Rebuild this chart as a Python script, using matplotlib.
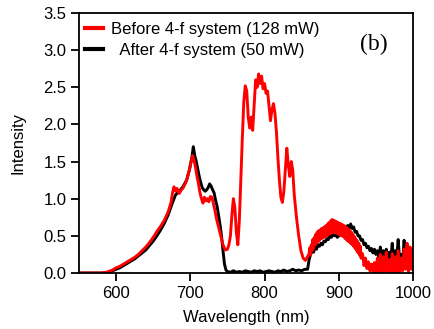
import matplotlib
matplotlib.use("Agg")
import matplotlib.pyplot as plt

plt.rcParams['font.family'] = ['Liberation Sans', 'DejaVu Sans']

# ---- Data ----
red_wl = [550, 560, 570, 580, 585, 590, 595, 600, 605, 610, 615, 620, 625, 630, 635, 640, 645, 650,
          655, 660, 665, 670, 674, 676, 678, 680, 682, 685, 688, 690, 693, 696, 699, 701, 703, 705,
          707, 709, 711, 713, 715, 717, 719, 721, 723, 725, 727, 729, 731, 733, 735, 738, 741, 744,
          747, 750, 752, 754, 756, 758, 760, 762, 764, 766, 768, 770, 772, 774, 776, 778, 780, 782,
          784, 786, 788, 790, 792, 794, 796, 798, 800, 802, 804, 806, 808, 810, 812, 814, 816, 818,
          820, 822, 824, 826, 828, 830, 832, 834, 836, 838, 840, 843, 846, 849, 852, 855, 858,
          860, 861, 862, 863, 864, 865, 866, 867, 868, 869, 870, 871, 872, 873, 874, 875, 876, 877,
          878, 879, 880, 881, 882, 883, 884, 885, 886, 887, 888, 889, 890, 891, 892, 893, 894, 895,
          896, 897, 898, 899, 900, 901, 902, 903, 904, 905, 906, 907, 908, 909, 910, 911, 912, 913,
          914, 915, 916, 917, 918, 919, 920, 921, 922, 923, 924, 925, 926, 927, 928, 929, 930,
          932, 934, 936, 938, 940, 942, 944, 946, 948, 950, 952, 954, 956, 958, 960, 962, 964, 966,
          968, 970, 972, 974, 976, 978, 980, 982, 984, 986, 988, 990, 992, 994, 996, 998, 1000]
red_int = [0.0, 0.0, 0.0, 0.0, 0.005, 0.02, 0.04, 0.07, 0.09, 0.12, 0.15, 0.18, 0.21, 0.25, 0.30, 0.35, 0.41, 0.48,
           0.56, 0.63, 0.71, 0.82, 0.95, 1.08, 1.16, 1.10, 1.14, 1.07, 1.12, 1.14, 1.20, 1.28, 1.40, 1.50, 1.58, 1.52,
           1.42, 1.30, 1.20, 1.08, 1.00, 0.94, 1.02, 0.97, 1.00, 0.96, 1.03, 1.02, 0.94, 0.85, 0.74, 0.62, 0.50, 0.38,
           0.31, 0.32, 0.38, 0.50, 0.78, 1.00, 0.88, 0.55, 0.38, 0.70, 1.25, 1.80, 2.30, 2.52, 2.45, 2.10, 1.95, 2.10,
           1.92, 2.25, 2.60, 2.50, 2.68, 2.55, 2.65, 2.48, 2.55, 2.42, 2.45, 2.25, 2.05, 2.20, 2.28, 2.15, 1.90, 1.55,
           1.25, 1.02, 0.95, 1.10, 1.40, 1.68, 1.45, 1.30, 1.50, 1.38, 1.05, 0.75, 0.50, 0.30, 0.20, 0.17, 0.22,
           0.26, 0.34, 0.24, 0.38, 0.30, 0.45, 0.33, 0.48, 0.38, 0.52, 0.40, 0.55, 0.42, 0.57, 0.44, 0.58, 0.46, 0.60,
           0.47, 0.61, 0.48, 0.62, 0.49, 0.64, 0.50, 0.66, 0.52, 0.68, 0.53, 0.70, 0.54, 0.72, 0.55, 0.71, 0.54, 0.70,
           0.55, 0.69, 0.53, 0.68, 0.52, 0.67, 0.51, 0.66, 0.50, 0.65, 0.49, 0.64, 0.47, 0.62, 0.45, 0.61, 0.43, 0.59,
           0.42, 0.57, 0.40, 0.55, 0.38, 0.52, 0.36, 0.49, 0.33, 0.46, 0.30, 0.43, 0.27, 0.40, 0.24, 0.36, 0.20,
           0.26, 0.10, 0.20, 0.06, 0.15, 0.03, 0.12, 0.02, 0.14, 0.01, 0.20, 0.02, 0.25, 0.01, 0.22, 0.03, 0.28, 0.01,
           0.18, 0.02, 0.26, 0.00, 0.22, 0.02, 0.30, 0.01, 0.20, 0.03, 0.32, 0.05, 0.40, 0.02, 0.35, 0.05, 0.30]

black_wl = [550, 560, 570, 580, 590, 595, 600, 605, 610, 615, 620, 625, 630, 635, 640, 645, 650, 655,
            660, 665, 670, 675, 680, 685, 690, 695, 699, 702, 704, 706, 708, 710, 712, 714, 716, 718,
            720, 722, 724, 726, 728, 730, 732, 734, 736, 738, 740, 742, 744, 746, 748, 750,
            754, 758, 762, 766, 770, 774, 778, 782, 786, 790, 794, 798, 802, 806, 810, 814, 818, 822,
            826, 830, 834, 838, 842, 846, 850, 854, 858,
            860, 862, 864, 866, 868, 870, 872, 874, 876, 878, 880, 882, 884, 886, 888, 890, 892, 894,
            896, 898, 900, 902, 904, 906, 908, 910, 912, 914, 916, 918, 920, 922, 924, 926, 928, 930,
            932, 934, 936, 938, 940, 942, 944, 946, 948, 950, 952, 954, 956, 958, 960, 962, 964, 966,
            968, 970, 972, 974, 976, 978, 980, 982, 984, 986, 988, 990, 992, 994, 996, 998, 1000]
black_int = [0.0, 0.0, 0.0, 0.0, 0.01, 0.03, 0.05, 0.07, 0.10, 0.13, 0.16, 0.19, 0.23, 0.27, 0.31, 0.37, 0.43, 0.50,
             0.58, 0.67, 0.78, 0.92, 1.05, 1.10, 1.16, 1.25, 1.40, 1.55, 1.70, 1.58, 1.50, 1.40, 1.30, 1.22, 1.15, 1.12,
             1.10, 1.12, 1.15, 1.20, 1.17, 1.12, 1.08, 0.98, 0.90, 0.78, 0.65, 0.50, 0.30, 0.12, 0.04, 0.02,
             0.01, 0.03, 0.01, 0.02, 0.01, 0.03, 0.02, 0.01, 0.03, 0.02, 0.03, 0.01, 0.02, 0.03, 0.02, 0.01, 0.03, 0.02,
             0.04, 0.02, 0.03, 0.05, 0.03, 0.04, 0.03, 0.05, 0.05,
             0.18, 0.25, 0.30, 0.28, 0.35, 0.32, 0.38, 0.36, 0.40, 0.38, 0.43, 0.42, 0.46, 0.45, 0.50, 0.48, 0.53, 0.50,
             0.52, 0.48, 0.50, 0.52, 0.55, 0.53, 0.60, 0.58, 0.64, 0.60, 0.66, 0.60, 0.62, 0.55, 0.56, 0.50, 0.50, 0.44,
             0.45, 0.38, 0.40, 0.34, 0.36, 0.30, 0.33, 0.27, 0.32, 0.25, 0.30, 0.22, 0.35, 0.20, 0.30, 0.18, 0.32, 0.15,
             0.28, 0.18, 0.40, 0.15, 0.30, 0.20, 0.45, 0.18, 0.25, 0.15, 0.44, 0.20, 0.30, 0.16, 0.25, 0.20, 0.10]

red_label = "Before 4-f system (128 mW)"
black_label = "  After 4-f system (50 mW)"
x_ticks = [600, 700, 800, 900, 1000]
y_ticks = [0.0, 0.5, 1.0, 1.5, 2.0, 2.5, 3.0, 3.5]
y_tick_labels = ["0.0", "0.5", "1.0", "1.5", "2.0", "2.5", "3.0", "3.5"]

fig = plt.figure(figsize=(4.34, 3.29), dpi=100)
ax = fig.add_axes([79/434, 1 - 273/329, (413 - 79)/434, (273 - 13)/329])

lb, = ax.plot(black_wl, black_int, color='black', lw=2.1, label=black_label)
lr, = ax.plot(red_wl, red_int, color='#ff0000', lw=2.1, label=red_label)

ax.set_xlim(550, 1000)
ax.set_ylim(0, 3.5)
ax.set_xticks(x_ticks)
ax.set_yticks(y_ticks)
ax.set_yticklabels(y_tick_labels)
ax.tick_params(direction='out', length=6, width=1.3, labelsize=12, pad=3)
for s in ax.spines.values():
    s.set_linewidth(1.3)

ax.set_xlabel("Wavelength (nm)", fontsize=12, labelpad=7)
ax.set_ylabel("Intensity", fontsize=12, labelpad=13)

leg = ax.legend(handles=[lr, lb], loc='upper left', bbox_to_anchor=(-0.01, 1.0),
                frameon=False, fontsize=12, handlelength=1.1, handletextpad=0.5,
                labelspacing=0.35, borderaxespad=0.35, borderpad=0.2)
for h in leg.get_lines():
    h.set_linewidth(3)

ax.text(0.925, 0.88, "(b)", transform=ax.transAxes, ha='right', va='center',
        fontsize=17, family=['Liberation Serif', 'DejaVu Serif'])

fig.savefig("out.png", dpi=100)
